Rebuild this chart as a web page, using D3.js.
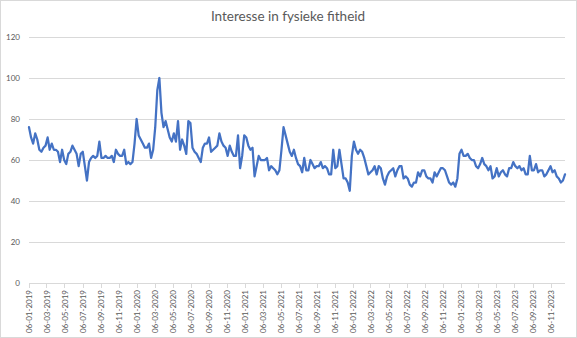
<!DOCTYPE html>
<html>
<head>
<meta charset="utf-8">
<script src="https://cdn.jsdelivr.net/npm/d3@7"></script>
<style>
  html, body { margin: 0; padding: 0; background: #fff; }
  svg { display: block; font-family: Lato, "Open Sans", sans-serif; }
</style>
</head>
<body>
<div id="chart"></div>
<script>
// ---- data ----
const title = "Interesse in fysieke fitheid";
const firstWeek = "2019-01-06"; // weekly series, one value per week starting here
const values = [
  76,71,68,73,70,65,64,66,67,71,
  65,68,65,65,64,59,65,60,58,63,
  64,67,65,63,57,63,64,57,50,59,
  61,62,61,62,69,61,61,62,61,61,
  62,59,65,63,62,62,65,58,59,58,
  59,68,80,72,70,68,66,66,68,61,
  65,76,94,
  100,83,76,79,75,71,69,73,69,79,
  65,70,67,63,79,78,66,64,63,61,
  59,66,68,68,71,64,65,66,67,73,
  69,67,66,62,67,64,62,62,72,56,
  62,72,71,67,65,66,52,57,62,60,
  60,60,61,55,57,56,55,53,55,65,
  76,72,68,64,
  62,65,61,58,57,54,61,55,55,60,
  58,56,57,57,59,56,57,56,53,53,
  65,56,57,65,58,51,51,49,45,62,
  69,65,63,65,64,61,57,53,54,55,
  57,53,57,56,51,48,52,54,55,56,
  52,55,57,57,51,52,51,48,47,49,
  49,54,52,55,55,
  52,51,51,49,54,52,54,56,56,55,
  52,49,48,49,47,51,63,65,62,62,
  63,61,60,60,57,56,58,61,58,57,
  55,57,51,52,56,52,54,55,53,52,
  56,56,59,57,56,57,55,56,53,53,
  62,55,55,58,54,55,55,52,53,55,
  57,54,55,52,51,49,50,53
];
const yTicks = [0, 20, 40, 60, 80, 100, 120];
const xTickLabels = [
  "06-01-2019","06-03-2019","06-05-2019","06-07-2019","06-09-2019","06-11-2019",
  "06-01-2020","06-03-2020","06-05-2020","06-07-2020","06-09-2020","06-11-2020",
  "06-01-2021","06-03-2021","06-05-2021","06-07-2021","06-09-2021","06-11-2021",
  "06-01-2022","06-03-2022","06-05-2022","06-07-2022","06-09-2022","06-11-2022",
  "06-01-2023","06-03-2023","06-05-2023","06-07-2023","06-09-2023","06-11-2023"
];

// ---- chart ----
const W = 577, H = 338;
const parse = d3.timeParse("%Y-%m-%d");
const parseLabel = d3.timeParse("%d-%m-%Y");
const start = parse(firstWeek);
const dates = values.map((v, i) => d3.timeDay.offset(start, i * 7));
const data = values.map((v, i) => ({ date: dates[i], value: v }));

const plotL = 29, plotR = 565, plotT = 37, plotB = 283;
const x = d3.scaleTime().domain([dates[0], dates[dates.length - 1]]).range([plotL, plotR]);
const y = d3.scaleLinear().domain([0, 120]).range([plotB, plotT]);

const svg = d3.select("#chart").append("svg").attr("width", W).attr("height", H);

svg.append("rect").attr("x", 0.5).attr("y", 0.5).attr("width", W - 1).attr("height", H - 1)
  .attr("fill", "#fff").attr("stroke", "#d9d9d9");

svg.append("text").attr("x", 288).attr("y", 21).attr("text-anchor", "middle")
  .attr("font-size", 13.5).attr("fill", "#595959").text(title);

// grid + y labels
const yAxis = d3.axisLeft(y).tickValues(yTicks).tickSize(-(plotR - plotL)).tickPadding(9);
const gy = svg.append("g").attr("transform", `translate(${plotL},0)`).call(yAxis);
gy.select(".domain").remove();
gy.selectAll(".tick line").attr("stroke", "#d9d9d9").attr("shape-rendering", "crispEdges");
gy.selectAll(".tick text").attr("fill", "#595959").attr("font-size", 8).attr("font-family", "Lato, sans-serif");

// x axis
const tickDates = xTickLabels.map(s => parseLabel(s));
const xAxis = d3.axisBottom(x).tickValues(tickDates).tickSize(5).tickPadding(4)
  .tickFormat(d3.timeFormat("%d-%m-%Y"));
const gx = svg.append("g").attr("transform", `translate(0,${plotB})`).call(xAxis);
gx.select(".domain").attr("stroke", "#d9d9d9").attr("d", `M${plotL},0.5H${plotR}`).attr("shape-rendering", "crispEdges");
gx.selectAll(".tick line").attr("stroke", "#d9d9d9").attr("shape-rendering", "crispEdges");
gx.selectAll(".tick text")
  .attr("fill", "#595959").attr("font-size", 8).attr("font-family", "Lato, sans-serif")
  .attr("text-anchor", "end")
  .attr("transform", "rotate(-90)")
  .attr("x", -7).attr("y", 0).attr("dy", "0.35em");

// line
const line = d3.line().x(d => x(d.date)).y(d => y(d.value));
svg.append("path").datum(data).attr("d", line)
  .attr("fill", "none").attr("stroke", "#4472C4").attr("stroke-width", 2.25)
  .attr("stroke-linejoin", "round").attr("stroke-linecap", "round");
</script>
</body>
</html>
